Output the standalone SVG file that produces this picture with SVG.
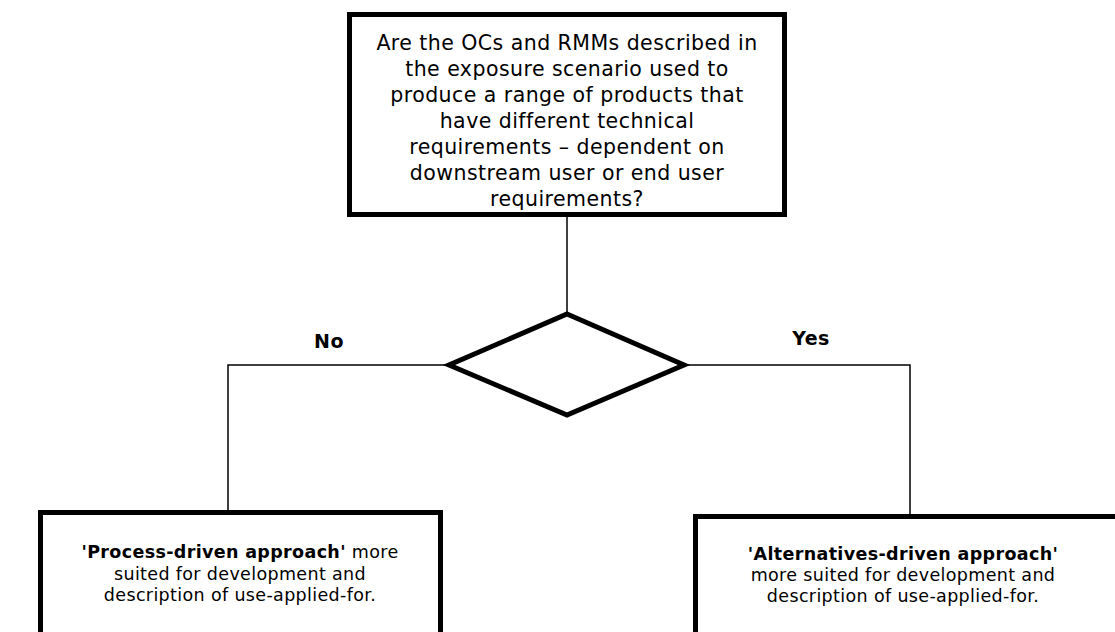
<svg xmlns="http://www.w3.org/2000/svg" width="1115" height="632" viewBox="0 0 1115 632">
<style>
.box{fill:#fff;stroke:#000;stroke-width:5}
.ln{fill:none;stroke:#000;stroke-width:1.5}
text{font-family:"DejaVu Sans",Verdana,sans-serif;font-size:20.5px;letter-spacing:0.45px;fill:#000;text-anchor:middle}
.s{font-size:17.5px;letter-spacing:0.35px}
.lbl{font-size:19px;letter-spacing:0.4px}
.b{font-weight:bold}
</style>
<rect width="1115" height="632" fill="#fff"/>
<g id="connectors">
<line class="ln" x1="567" y1="217" x2="567" y2="313"/>
<polyline class="ln" points="448,365 228,365 228,510"/>
<polyline class="ln" points="684,365 910,365 910,514"/>
</g>
<g id="question">
<rect class="box" x="349.5" y="14.5" width="435" height="200"/>
<text x="567" y="49.5">Are the OCs and RMMs described in</text>
<text x="567" y="75.5">the exposure scenario used to</text>
<text x="567" y="101.5">produce a range of products that</text>
<text x="567" y="127.5">have different technical</text>
<text x="567" y="153.5">requirements – dependent on</text>
<text x="567" y="179.5">downstream user or end user</text>
<text x="567" y="205.5">requirements?</text>
</g>
<g id="decision">
<polygon class="box" points="567,314 684,365 567,415 449,365"/>
</g>
<g id="label-no"><text class="b lbl" x="329" y="347.5">No</text></g>
<g id="label-yes"><text class="b lbl" x="811" y="344.5">Yes</text></g>
<g id="process-box">
<rect class="box" x="40.5" y="512.5" width="400" height="130"/>
<text class="s" x="240" y="558"><tspan class="b">'Process-driven approach'</tspan> more</text>
<text class="s" x="240" y="579.5">suited for development and</text>
<text class="s" x="240" y="601">description of use-applied-for.</text>
</g>
<g id="alternatives-box">
<rect class="box" x="695.5" y="516.5" width="425" height="130"/>
<text class="s b" x="903" y="560">'Alternatives-driven approach'</text>
<text class="s" x="903" y="581">more suited for development and</text>
<text class="s" x="903" y="602">description of use-applied-for.</text>
</g>
</svg>
